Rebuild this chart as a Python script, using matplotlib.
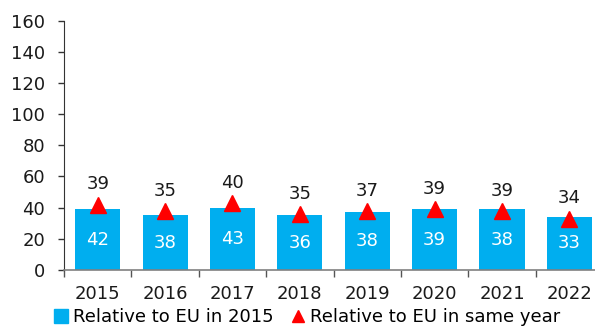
import numpy as np
import matplotlib.pyplot as plt
from matplotlib.lines import Line2D

# =========================
# DATA
# =========================
years = ["2015", "2016", "2017", "2018", "2019", "2020", "2021", "2022"]
bar_values = [39, 35, 40, 35, 37, 39, 39, 34]          # labelled above the markers
marker_values = [42, 38, 43, 36, 38, 39, 38, 33]       # labelled inside the bars
legend_labels = ["Relative to EU in 2015", "Relative to EU in same year"]

BLUE = "#00AEEF"
RED = "#FF0000"
FONT = 13

plt.rcParams["font.family"] = ["DejaVu Sans"]

fig = plt.figure(figsize=(5.95, 3.26), dpi=100)
ax = fig.add_axes([0.1076, 0.172, 0.906, 0.7645])

x = np.arange(len(years))
ax.bar(x, bar_values, width=0.67, color=BLUE, zorder=2)
ax.plot(x, marker_values, linestyle="none", marker="^", ms=12,
        color=RED, zorder=3)

# bar values sit above the triangles, triangle values inside the bars
for xi, bv, mv in zip(x, bar_values, marker_values):
    ax.annotate(str(bv), (xi, mv), xytext=(0, 8), textcoords="offset points",
                ha="center", va="bottom", fontsize=FONT, color="#1a1a1a")
    ax.text(xi, bv / 2, str(mv), ha="center", va="center",
            fontsize=FONT, color="white", zorder=4)

ax.set_xlim(-0.5, len(years) - 0.5)
ax.set_ylim(0, 160)
ax.set_yticks(range(0, 161, 20))
ax.set_xticks(x)
ax.set_xticklabels(years)
ax.set_xticks(np.arange(-0.5, len(years), 1.0), minor=True)

ax.tick_params(axis="y", length=4.5, width=1, color="#333333",
               pad=9, labelsize=FONT, labelcolor="#1a1a1a")
ax.tick_params(axis="x", which="major", length=0, pad=11,
               labelsize=FONT, labelcolor="#1a1a1a")
ax.tick_params(axis="x", which="minor", length=5, width=1, color="#555555")

for s in ["top", "right"]:
    ax.spines[s].set_visible(False)
ax.spines["left"].set_color("#333333")
ax.spines["bottom"].set_color("#808080")
ax.spines["bottom"].set_linewidth(1.2)

handles = [
    Line2D([], [], linestyle="none", marker="s", ms=10, color=BLUE),
    Line2D([], [], linestyle="none", marker="^", ms=9, color=RED),
]
fig.legend(handles, legend_labels, loc="lower center", ncol=2,
           bbox_to_anchor=(0.515, -0.05), frameon=False, fontsize=FONT,
           handletextpad=0.2, columnspacing=0.9, handlelength=0.9)

plt.savefig("out.png", dpi=100)
